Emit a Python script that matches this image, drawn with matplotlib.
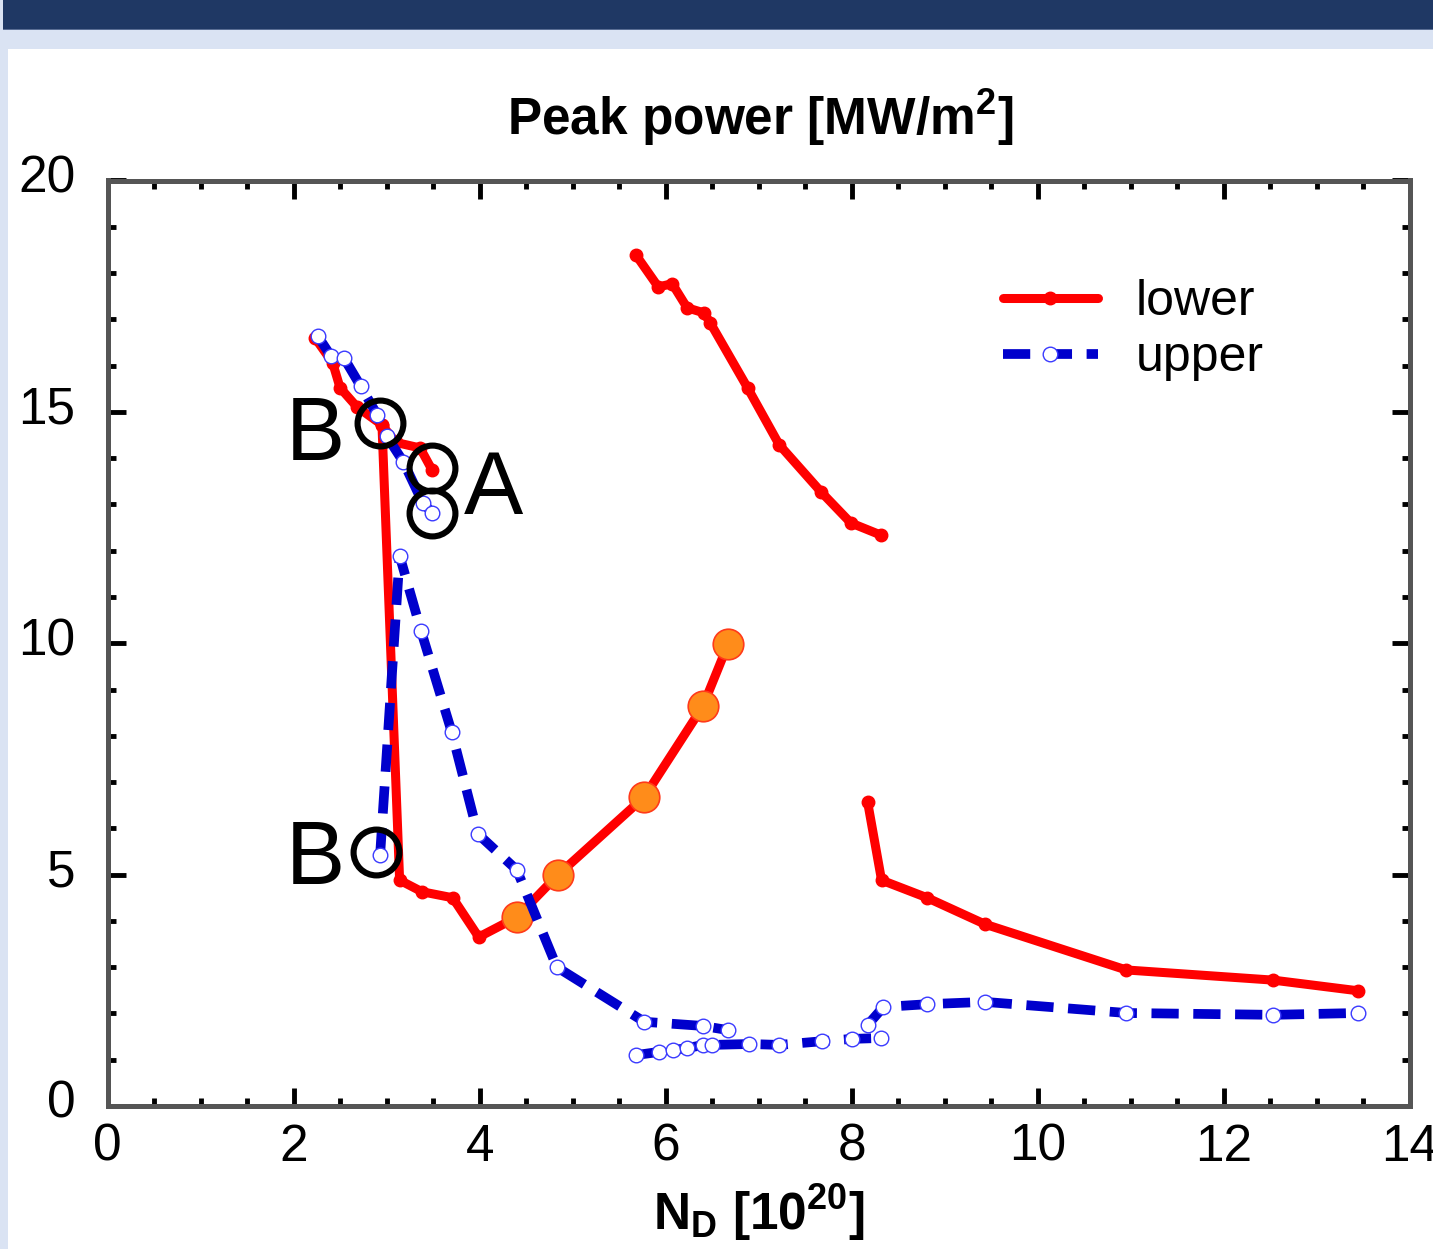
import matplotlib
matplotlib.use("Agg")
import matplotlib.pyplot as plt
from matplotlib.patches import Rectangle
from matplotlib.ticker import MultipleLocator
from matplotlib.transforms import ScaledTranslation

plt.rcParams['font.family'] = ['Liberation Sans', 'DejaVu Sans']
plt.rcParams['mathtext.fontset'] = 'custom'
plt.rcParams['mathtext.rm'] = 'Liberation Sans'
plt.rcParams['mathtext.bf'] = 'Liberation Sans:bold'
plt.rcParams['mathtext.default'] = 'regular'

# ---- data: lower divertor (red) ----
lowA_x = [2.23, 2.42, 2.50, 2.68, 2.95, 3.10, 3.36, 3.49]
lowA_y = [16.60, 16.06, 15.52, 15.11, 14.72, 14.34, 14.22, 13.74]
lowB_x = [2.95, 3.14, 3.38, 3.71, 3.99, 4.40, 4.84, 5.77, 6.40, 6.67]
lowB_y = [14.72, 4.88, 4.63, 4.50, 3.65, 4.08, 4.99, 6.68, 8.64, 9.98]
lowC_x = [5.68, 5.92, 6.07, 6.23, 6.41, 6.48, 6.88, 7.22, 7.67, 7.99, 8.31]
lowC_y = [18.39, 17.70, 17.77, 17.25, 17.14, 16.92, 15.52, 14.29, 13.27, 12.60, 12.34]
lowD_x = [8.17, 8.32, 8.81, 9.43, 10.95, 12.53, 13.44]
lowD_y = [6.57, 4.88, 4.50, 3.93, 2.94, 2.72, 2.49]

# highlighted points (orange)
hl_x = [4.40, 4.84, 5.77, 6.40, 6.67]
hl_y = [4.08, 4.99, 6.68, 8.64, 9.98]

# ---- data: upper divertor (blue) ----
upA_x = [2.26, 2.40, 2.54, 2.72, 2.90, 3.00, 3.18, 3.39, 3.49]
upA_y = [16.64, 16.21, 16.17, 15.56, 14.93, 14.48, 13.92, 13.03, 12.82]
upB_x = [2.93, 3.14, 3.37, 3.70, 3.98, 4.40, 4.83, 5.77, 6.40, 6.67]
upB_y = [5.42, 11.89, 10.27, 8.08, 5.88, 5.10, 3.00, 1.82, 1.73, 1.64]
upC_x = [5.68, 5.93, 6.08, 6.23, 6.40, 6.50, 6.90, 7.22, 7.68, 8.00, 8.31]
upC_y = [1.10, 1.17, 1.21, 1.25, 1.32, 1.32, 1.34, 1.32, 1.40, 1.45, 1.47]
upD_x = [8.17, 8.34, 8.81, 9.43, 10.95, 12.53, 13.44]
upD_y = [1.75, 2.14, 2.20, 2.25, 2.01, 1.97, 2.01]

# annotations
ring_x = [2.93, 3.49, 3.49, 2.89]
ring_y = [14.76, 13.79, 12.82, 5.49]
letters = ['B', 'A', 'B']
letter_x = [2.23, 4.15, 2.23]
letter_y = [14.45, 13.30, 5.30]

xticks = [0, 2, 4, 6, 8, 10, 12, 14]
yticks = [0, 5, 10, 15, 20]

W, H = 1433, 1249
fig = plt.figure(figsize=(W / 100, H / 100), dpi=100)
fig.patch.set_facecolor('white')
# page decoration
fig.patches.append(Rectangle((0, 0), 8 / W, 1, transform=fig.transFigure,
                             facecolor='#dae3f3', edgecolor='none', zorder=0))
fig.patches.append(Rectangle((0, 1 - 49 / H), 1, 49 / H, transform=fig.transFigure,
                             facecolor='#dae3f3', edgecolor='none', zorder=0))
fig.patches.append(Rectangle((3 / W, 1 - 29 / H), 1, 29 / H, transform=fig.transFigure,
                             facecolor='#1f3864', edgecolor='none', zorder=1))
fig.patches.append(Rectangle((3 / W, 1 - 30 / H), 1, 1.5 / H, transform=fig.transFigure,
                             facecolor='#5a6e94', edgecolor='none', zorder=1))

ax = fig.add_axes([107.5 / W, 1 - 1106 / H, (1410 - 107.5) / W, (1106 - 180.5) / H])

red = '#ff0000'
blue = '#0000cc'
lw_r = 6.5
lw_b = 7.0

first = True
for xs, ys in [(lowA_x, lowA_y), (lowB_x, lowB_y), (lowC_x, lowC_y), (lowD_x, lowD_y)]:
    ax.plot(xs, ys, color=red, lw=lw_r, marker='o', ms=9, mfc=red, mec=red,
            solid_joinstyle='round', solid_capstyle='round', zorder=3,
            label='lower' if first else None)
    first = False

ax.plot(hl_x, hl_y, ls='none', marker='o', ms=22, mfc='#ff8c1a', mec='#ff3a1a',
        mew=1.2, zorder=4)

first = True
for xs, ys in [(upA_x, upA_y), (upB_x, upB_y), (upC_x, upC_y), (upD_x, upD_y)]:
    ax.plot(xs, ys, color=blue, lw=lw_b, dashes=(2.8, 1.5), marker='o', ms=10.5,
            mfc='white', mec='#3a3aff', mew=1.0, zorder=5,
            label='upper' if first else None)
    first = False

ax.plot(ring_x, ring_y, ls='none', marker='o', ms=33, mfc='none', mec='black',
        mew=4.4, zorder=6)
for t, x, y in zip(letters, letter_x, letter_y):
    ax.text(x, y, t, fontsize=64, ha='center', va='center', color='black', zorder=7)

ax.set_xlim(0, 14)
ax.set_ylim(0, 20)
ax.set_xticks(xticks)
ax.set_yticks(yticks)
ax.xaxis.set_minor_locator(MultipleLocator(0.5))
ax.yaxis.set_minor_locator(MultipleLocator(1))
ax.tick_params(which='both', direction='in', top=True, right=True, color='black')
ax.tick_params(which='major', length=13, width=3.5, labelsize=37, pad=12)
ax.tick_params(which='minor', length=6, width=3.5)
ax.tick_params(axis='y', which='major', pad=23)
for lab in ax.get_yticklabels():
    lab.set_transform(lab.get_transform() + ScaledTranslation(0, 7 / 100, fig.dpi_scale_trans))
for s in ax.spines.values():
    s.set_linewidth(3.6)
    s.set_color('#555555')

leg = ax.legend(loc='upper left', bbox_to_anchor=(0.672, 0.915), frameon=False,
                fontsize=36, handlelength=1.9, handletextpad=0.75, labelspacing=0.2,
                borderaxespad=0)

fig.text(760 / W, 1 - 118 / H, r'Peak power [MW/m$^2$]', fontsize=37,
         fontweight='bold', ha='center', va='center')
ax.set_xlabel(r'N$_D$ [10$^{20}$]', fontsize=37, fontweight='bold', labelpad=8)

fig.savefig('out.png', dpi=100, facecolor=fig.get_facecolor())
